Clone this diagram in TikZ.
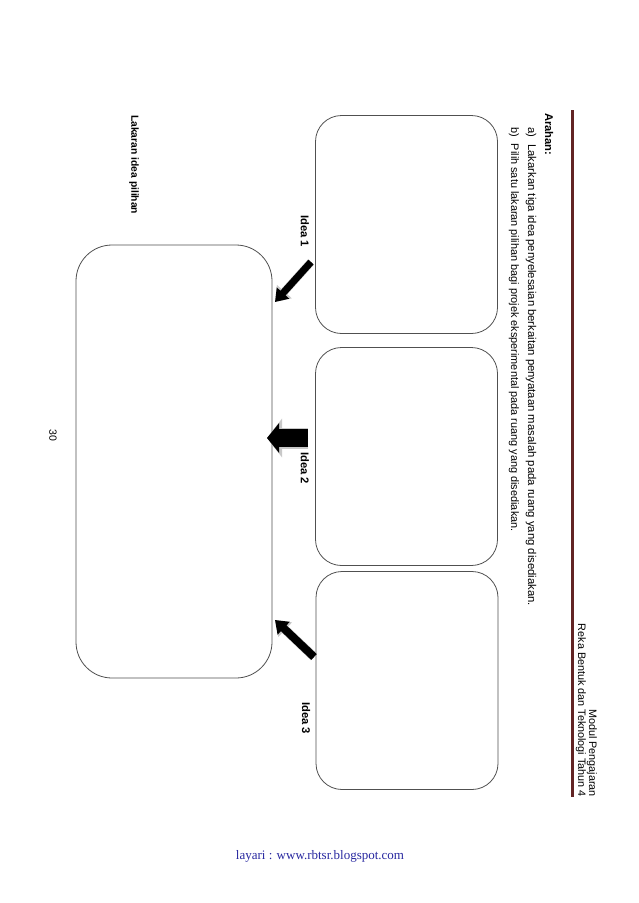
\documentclass[tikz,border=0pt]{standalone}
\usepackage{fontspec}
\setmainfont{Liberation Sans}
\newfontfamily\serifft{Liberation Serif}
\usetikzlibrary{arrows.meta}
\definecolor{rulecol}{RGB}{98,36,36}
\definecolor{boxline}{RGB}{80,80,80}
\definecolor{footblue}{RGB}{40,40,160}
\definecolor{shadowgray}{RGB}{200,200,200}
\tikzset{
  vtext/.style={rotate=-90, inner sep=0pt, font=\fontsize{11.3}{13}\selectfont},
  vhead/.style={rotate=-90, inner sep=0pt, font=\fontsize{10.8}{12}\selectfont},
  vbold/.style={rotate=-90, inner sep=0pt, font=\fontsize{11.2}{13}\selectfont\bfseries},
  ideabox/.style={draw=boxline, line width=0.8pt, rounded corners=26pt, minimum width=182pt, minimum height=218pt, inner sep=0pt},
  bigbox/.style={draw=boxline, line width=0.8pt, rounded corners=36pt, minimum width=196pt, minimum height=433pt, inner sep=0pt},
  blkarrow/.style={line width=#1, draw=black},
  shdarrow/.style={line width=#1, draw=shadowgray}
}
\begin{document}
\begin{tikzpicture}[x=1pt,y=-1pt]
\useasboundingbox[fill=white] (0,0) rectangle (638,903);
% header
\node[vhead, anchor=east] (modul) at (592,797) {Modul Pengajaran};
\node[vhead, anchor=east] (reka) at (581,797) {Reka Bentuk dan Teknologi Tahun 4};
\draw[rulecol, line width=3pt] (572,110) coordinate (r1) -- (572,797) coordinate (r2);
% instructions
\node[vbold, anchor=west] (arahan) at (549,113) {Arahan:};
\node[vtext, anchor=west] (insta) at (531,127) {a)\hspace{7pt}Lakarkan tiga idea penyelesaian berkaitan penyataan masalah pada ruang yang disediakan.};
\node[vtext, anchor=west, font=\fontsize{10.9}{13}\selectfont] (instb) at (514,127) {b)\hspace{7pt}Pilih satu lakaran pilihan bagi projek eksperimental pada ruang yang disediakan.};
% boxes
\node[ideabox] (idea1) at (406.5,224.5) {};
\node[ideabox] (idea2) at (406.5,456.5) {};
\node[ideabox] (idea3) at (407,680.5) {};
\node[bigbox] (pilihan) at (174,461.5) {};
% labels
\node[vbold, anchor=west] (l1) at (305,215) {Idea 1};
\node[vbold, anchor=west] (l2) at (305,452) {Idea 2};
\node[vbold, anchor=west] (l3) at (306,702) {Idea 3};
\node[vbold, anchor=west, font=\fontsize{10.3}{12}\selectfont\bfseries] (l4) at (134,115) {Lakaran idea pilihan};
\node[vtext, font=\fontsize{10.5}{12}\selectfont] (pg) at (53,435) {30};
% arrows
\coordinate (a1s) at (311,262);
\coordinate (a1e) at (275,302);
\coordinate (a2s) at (308,438);
\coordinate (a2e) at (267,438);
\coordinate (a3s) at (314,657);
\coordinate (a3e) at (275,620);
\begin{scope}[xshift=-4pt]
\draw[shdarrow=8pt, -{Triangle[width=19pt,length=14pt]}] (a1s) -- (a1e);
\draw[shdarrow=21pt, -{Triangle[width=38pt,length=15pt]}] (a2s) -- (a2e);
\draw[shdarrow=9pt, -{Triangle[width=19pt,length=14pt]}] (a3s) -- (a3e);
\end{scope}
\draw[blkarrow=7pt, -{Triangle[width=16pt,length=12pt]}, fill=black] (a1s) -- (a1e);
\draw[blkarrow=18pt, -{Triangle[width=29pt,length=12pt]}, fill=black] (a2s) -- (a2e);
\draw[blkarrow=8pt, -{Triangle[width=17pt,length=12pt]}, fill=black] (a3s) -- (a3e);
% footer
\node[font=\serifft\fontsize{13}{15}\selectfont, text=footblue, inner sep=0pt] (foot) at (320,856) {layari : www.rbtsr.blogspot.com};
\end{tikzpicture}
\end{document}
